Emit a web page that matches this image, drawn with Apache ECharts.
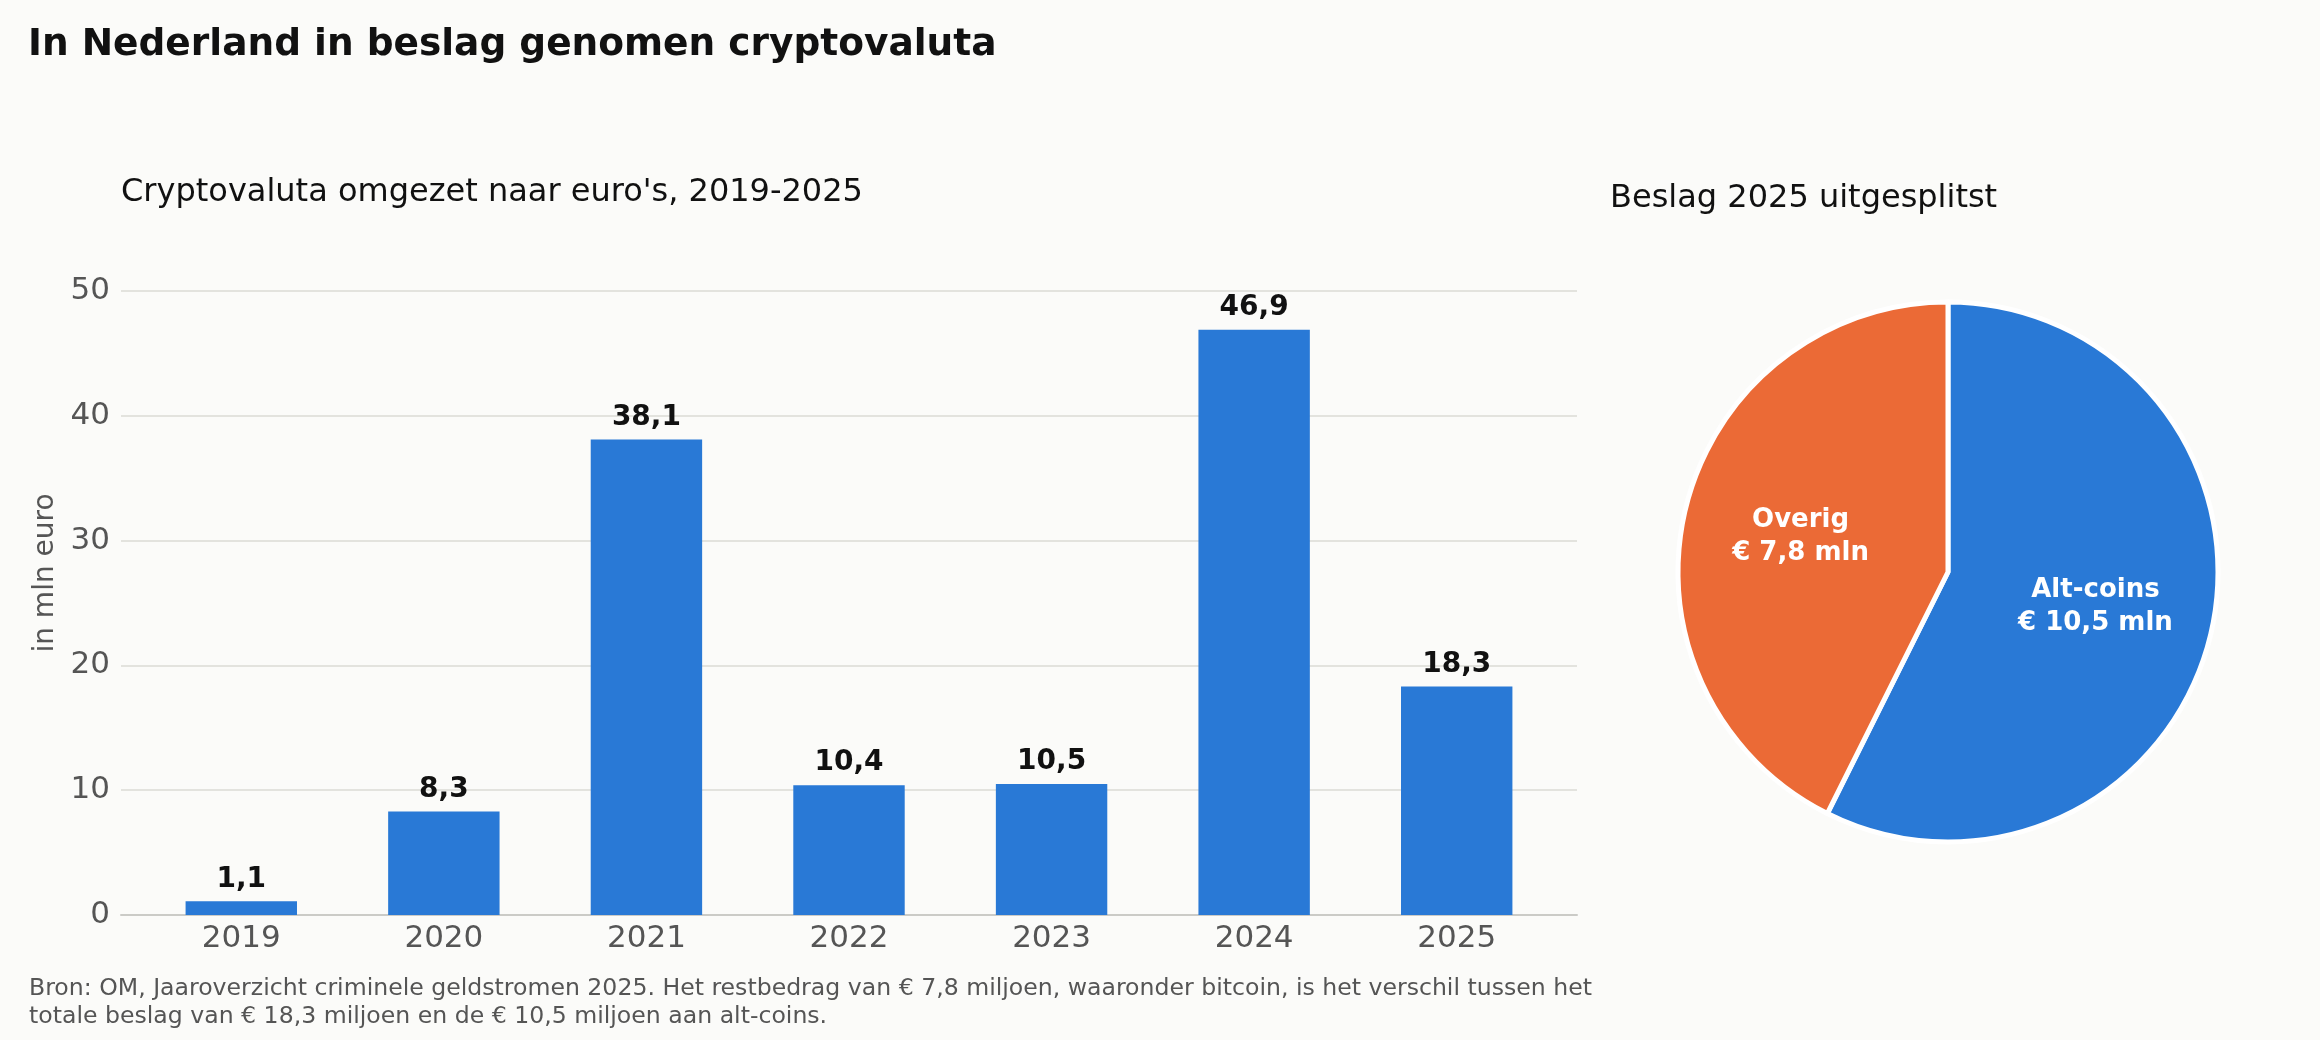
<!DOCTYPE html>
<html>
<head>
    <meta charset="utf-8">
    <script src="https://cdn.jsdelivr.net/npm/echarts@6/dist/echarts.min.js"></script>
    <style>
        html, body { margin: 0; padding: 0; background: #fbfbf9; }
        #main { width: 2320px; height: 1040px; }
    </style>
</head>
<body>
	<div id="main"></div>
	<script type="text/javascript">
		// data
		var years = ['2019', '2020', '2021', '2022', '2023', '2024', '2025']
		var values = [1.1, 8.3, 38.1, 10.4, 10.5, 46.9, 18.3]
		var splitNames = ['Alt-coins', 'Overig']
		var splitValues = [10.5, 7.8]
		var splitColors = ['#2979d6', '#eb6a36']
		var yMin = 0, yMax = 50, yStep = 10

		var font = 'DejaVu Sans'
		function nl(v) { return String(v).replace('.', ',') }

		var pieData = []
		for (var i = 0; i < splitNames.length; i++) {
			pieData.push({ name: splitNames[i], value: splitValues[i], itemStyle: { color: splitColors[i] } })
		}
		// same slices, only used to place the labels a bit further out
		var pieLabels = []
		for (var i = 0; i < splitNames.length; i++) {
			pieLabels.push({ name: splitNames[i], value: splitValues[i] })
		}

		var myChart = echarts.init(document.getElementById('main'))
option = {
    backgroundColor: '#fbfbf9',
    animation: false,
    textStyle: { fontFamily: font },
    title: [{
        text: 'In Nederland in beslag genomen cryptovaluta',
        left: 23, top: 21,
        textStyle: { fontSize: 37.5, fontWeight: 'bold', color: '#111', fontFamily: font }
    }, {
        text: "Cryptovaluta omgezet naar euro's, 2019-2025",
        left: 116, top: 172,
        textStyle: { fontSize: 32, fontWeight: 'normal', color: '#111', fontFamily: font }
    }, {
        text: 'Beslag 2025 uitgesplitst',
        left: 1605, top: 178,
        textStyle: { fontSize: 32, fontWeight: 'normal', color: '#111', fontFamily: font }
    }, {
        text: 'Bron: OM, Jaaroverzicht criminele geldstromen 2025. Het restbedrag van \u20ac 7,8 miljoen, waaronder bitcoin, is het verschil tussen het\ntotale beslag van \u20ac 18,3 miljoen en de \u20ac 10,5 miljoen aan alt-coins.',
        left: 24, top: 970,
        textStyle: { fontSize: 23.6, fontWeight: 'normal', color: '#555', lineHeight: 28, fontFamily: font }
    }],
    grid: [
        { left: 121, right: 743, top: 291, bottom: 125 },
        { left: 140, right: 762, top: 291, bottom: 125 }
    ],
    xAxis: [{
        gridIndex: 0, type: 'category', data: [''],
        axisLine: { show: true, lineStyle: { color: '#cbcbc7', width: 2 } },
        axisTick: { show: false }, axisLabel: { show: false }, splitLine: { show: false }
    }, {
        gridIndex: 1, type: 'category', data: years,
        axisLine: { show: false }, axisTick: { show: false },
        axisLabel: { fontSize: 31, color: '#555', margin: 8, fontFamily: font }
    }],
    yAxis: [{
        gridIndex: 0, type: 'value', min: yMin, max: yMax, interval: yStep,
        name: 'in mln euro', nameLocation: 'middle', nameGap: 60,
        nameTextStyle: { fontSize: 28, color: '#555', fontFamily: font, padding: [0, 0, 0, 60] },
        axisLine: { show: false }, axisTick: { show: false },
        axisLabel: { fontSize: 31, color: '#555', margin: 11, fontFamily: font, padding: [4, 0, 0, 0] },
        splitLine: { lineStyle: { color: '#e3e3de', width: 2 } }
    }, {
        gridIndex: 1, type: 'value', min: yMin, max: yMax, interval: yStep, show: false
    }],
    series: [{
        type: 'bar',
        xAxisIndex: 1, yAxisIndex: 1,
        data: values,
        barWidth: '55%',
        itemStyle: { color: '#2979d6' },
        label: {
            show: true, position: 'top', distance: 8,
            fontSize: 28, fontWeight: 'bold', color: '#111', fontFamily: font,
            formatter: function (p) { return nl(p.value) }
        }
    }, {
        type: 'pie',
        center: [1948, 572],
        radius: [0, 270],
        startAngle: 90,
        clockwise: true,
        data: pieData,
        itemStyle: { borderColor: '#ffffff', borderWidth: 5 },
        label: { show: false },
        labelLine: { show: false },
        silent: true
    }, {
        type: 'pie',
        center: [1948, 572],
        radius: [0, 297],
        startAngle: 90,
        clockwise: true,
        data: pieLabels,
        itemStyle: { color: 'rgba(0,0,0,0)' },
        label: {
            show: true, position: 'inside',
            fontSize: 26, fontWeight: 'bold', color: '#ffffff', lineHeight: 33, fontFamily: font,
            formatter: function (p) { return p.name + '\n\u20ac ' + nl(p.value) + ' mln' }
        },
        labelLine: { show: false },
        silent: true,
        z: 5
    }]
};
	myChart.setOption(option)
	</script>
</body>
</html>
